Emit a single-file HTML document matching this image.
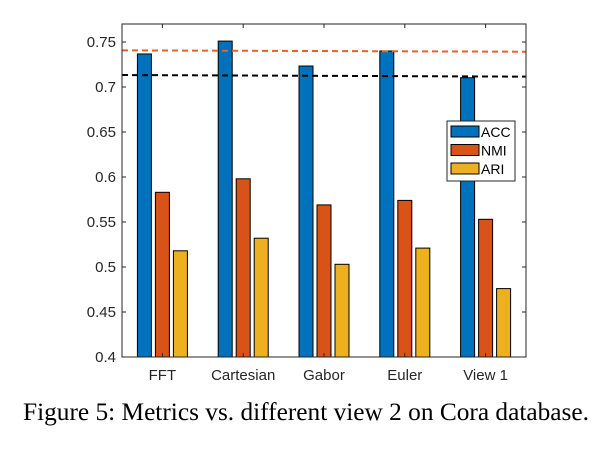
<!DOCTYPE html>
<html><head><meta charset="utf-8"><style>
body{margin:0;background:#fff;width:602px;height:451px;overflow:hidden}
svg text{font-family:"Liberation Sans",Arial,sans-serif}
</style></head><body>
<svg id="chart" width="602" height="451" xmlns="http://www.w3.org/2000/svg">
<g id="bars"></g>
<g id="axes"></g>
<g id="legend"></g>
<text x="306" y="420" text-anchor="middle" textLength="566" lengthAdjust="spacingAndGlyphs" style="font-family:'Liberation Serif',serif;font-size:25px">Figure 5: Metrics vs. different view 2 on Cora database.</text>
</svg>
<script>
const categories=["FFT","Cartesian","Gabor","Euler","View 1"];
const acc=[0.7367,0.751,0.7233,0.740,0.7103];
const nmi=[0.583,0.598,0.569,0.574,0.553];
const ari=[0.518,0.532,0.503,0.521,0.476];
const yTicks=[0.4,0.45,0.5,0.55,0.6,0.65,0.7,0.75];
const yTickLabels=["0.4","0.45","0.5","0.55","0.6","0.65","0.7","0.75"];
const refOrange=[0.7407,0.7392];
const refBlack=[0.7133,0.7115];
const seriesNames=["ACC","NMI","ARI"];
const colors=["#0072BD","#D95319","#EDB120"];

const L=122,R=526,T=24,B=357,yMin=0.4,yMax=0.77;
const ns="http://www.w3.org/2000/svg";
function y(v){return B-(v-yMin)/(yMax-yMin)*(B-T);}
function x(i){return L+(i+0.5)*(R-L)/categories.length;}
function mk(tag,attrs,parent){const e=document.createElementNS(ns,tag);for(const k in attrs)e.setAttribute(k,attrs[k]);parent.appendChild(e);return e;}
const gb=document.getElementById('bars'),ga=document.getElementById('axes'),gl=document.getElementById('legend');
const series=[acc,nmi,ari];const off=[-18,0,18];const bw=14;
series.forEach((s,si)=>{s.forEach((v,i)=>{
 const r=mk('rect',{x:x(i)+off[si]-bw/2,y:y(v),width:bw,height:B-y(v),fill:colors[si],stroke:"#000","stroke-width":1},gb);
 
 
});});
const lo=mk('line',{x1:L,x2:R,y1:y(refOrange[0]),y2:y(refOrange[1]),stroke:"#E8602C","stroke-width":2,"stroke-dasharray":"6,4"},gb);


const lb=mk('line',{x1:L,x2:R,y1:y(refBlack[0]),y2:y(refBlack[1]),stroke:"#000","stroke-width":2,"stroke-dasharray":"6,4"},gb);


const box=mk('rect',{x:L,y:T,width:R-L,height:B-T,fill:"none",stroke:"#262626","stroke-width":1},ga);


yTicks.forEach((v,i)=>{
 mk('line',{x1:L,x2:L+4,y1:y(v),y2:y(v),stroke:"#262626"},ga);
 mk('line',{x1:R,x2:R-4,y1:y(v),y2:y(v),stroke:"#262626"},ga);
 const t=mk('text',{x:L-6,y:y(v)+5,"text-anchor":"end","font-size":"15",fill:"#262626"},ga);
 t.textContent=yTickLabels[i];
 
 
});
categories.forEach((c,i)=>{
 mk('line',{x1:x(i),x2:x(i),y1:B,y2:B-4,stroke:"#262626"},ga);
 mk('line',{x1:x(i),x2:x(i),y1:T,y2:T+4,stroke:"#262626"},ga);
 const t=mk('text',{x:x(i),y:B+23,"text-anchor":"middle","font-size":"15",fill:"#262626"},ga);
 t.textContent=c;
 
 
});
const lbx=mk('rect',{x:447,y:121,width:68,height:60,fill:"#fff",stroke:"#262626"},gl);


seriesNames.forEach((n,i)=>{
 const yy=126+i*18.5;
 const sw=mk('rect',{x:451,y:yy,width:28,height:11,fill:colors[i],stroke:"#000"},gl);
 
 
 const t=mk('text',{x:481,y:yy+11,"font-size":"14",fill:"#000"},gl);
 t.textContent=n;
 
 
});
</script>
</body></html>
